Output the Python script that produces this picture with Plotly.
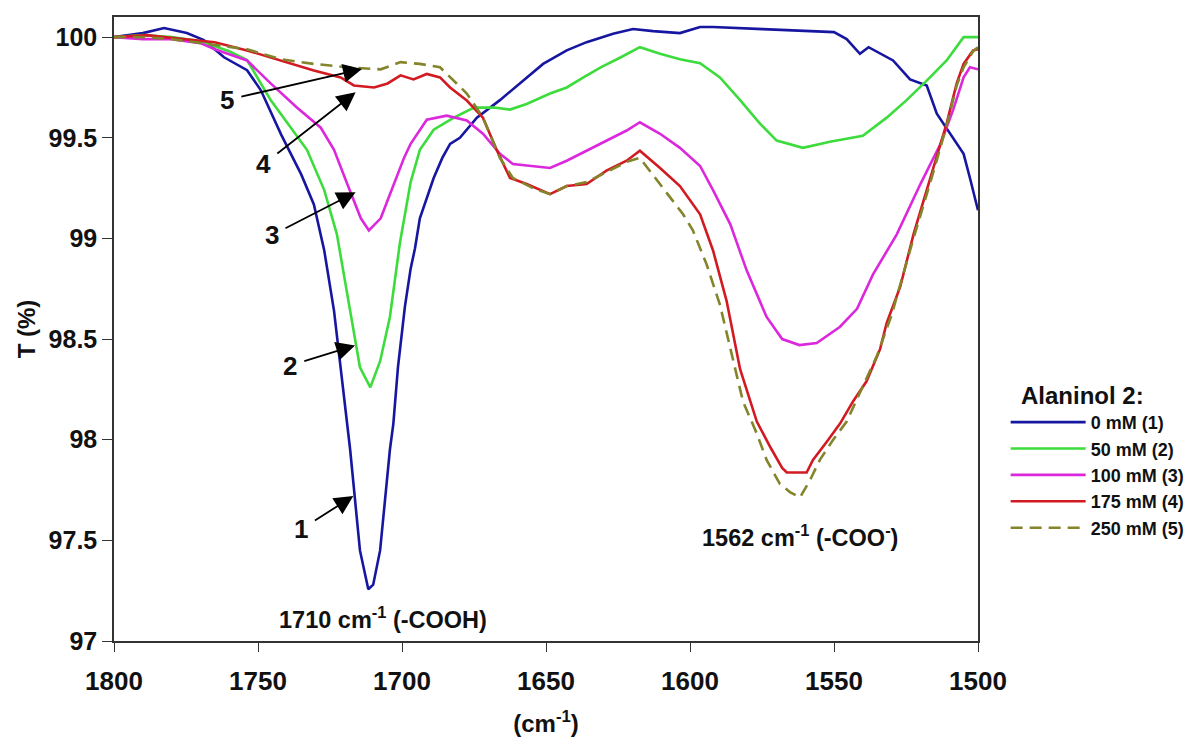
import plotly.graph_objects as go

# ---------------- data ----------------
wn_0 = [1800, 1790, 1782.6, 1774.7, 1768.8, 1761.8, 1753.8, 1749, 1742, 1735, 1730.6, 1727,
        1723.6, 1722.7, 1718, 1714.6, 1711.7, 1710, 1707.6, 1704.2, 1703, 1701.4, 1699,
        1697, 1695.5, 1693.8, 1689, 1686, 1683.3, 1679.9, 1674, 1666, 1656.7, 1651, 1642.8,
        1635.9, 1626.7, 1619.8, 1612.8, 1603.5, 1596.5, 1592, 1574.7, 1559.5, 1550, 1545.6,
        1541, 1538, 1534, 1529.5, 1523.6, 1517.8, 1514.3, 1509.7, 1505, 1502.8, 1500]
t_0 = [100.00, 100.02, 100.045, 100.02, 99.985, 99.90, 99.836, 99.736, 99.517, 99.318, 99.169,
       98.94, 98.64, 98.53, 97.95, 97.45, 97.257, 97.28, 97.45, 97.95, 98.08, 98.36, 98.66,
       98.85, 98.95, 99.10, 99.30, 99.40, 99.47, 99.50, 99.60, 99.687, 99.80, 99.867, 99.934,
       99.975, 100.017, 100.04, 100.03, 100.02, 100.05, 100.05, 100.04, 100.03, 100.025, 99.99,
       99.917, 99.95, 99.917, 99.884, 99.79, 99.76, 99.62, 99.52, 99.42, 99.30, 99.14]

wn_50 = [1800, 1790, 1780, 1770, 1760, 1753.8, 1745.6, 1738.6, 1733, 1727, 1722.6, 1718, 1714.6,
         1711, 1707.6, 1704.2, 1700.7, 1697, 1693.8, 1689, 1682, 1675, 1668, 1662.5, 1656.7,
         1648.6, 1642.8, 1637, 1631, 1624, 1617.4, 1610.4, 1603.5, 1596.5, 1589.6, 1582.6,
         1575.7, 1569.9, 1560.8, 1551.4, 1540, 1531.7, 1524.8, 1517.8, 1510.9, 1505, 1500]
t_50 = [100.00, 100.01, 100.00, 99.98, 99.93, 99.886, 99.687, 99.55, 99.44, 99.24, 99.02, 98.64,
        98.36, 98.26, 98.39, 98.61, 98.98, 99.28, 99.44, 99.54, 99.60, 99.65, 99.65, 99.64,
        99.668, 99.72, 99.75, 99.80, 99.85, 99.90, 99.95, 99.917, 99.89, 99.87, 99.80, 99.687,
        99.57, 99.486, 99.45, 99.48, 99.51, 99.60, 99.687, 99.784, 99.884, 100.00, 100.00]

wn_100 = [1800, 1790, 1780, 1770, 1765, 1753.8, 1745.6, 1736.5, 1728.2, 1723.6, 1719, 1714.3,
          1711.5, 1707.4, 1702.8, 1699.3, 1697, 1691.4, 1684.5, 1677.5, 1671.9, 1666, 1661.5,
          1654.5, 1648.6, 1642.8, 1635.9, 1629, 1622, 1617.4, 1610.4, 1603.5, 1596.5, 1592,
          1586, 1580.3, 1573.4, 1568, 1562, 1556, 1548, 1542, 1536.5, 1528.2, 1520, 1513,
          1508.6, 1505, 1502.8, 1500]
t_100 = [100.00, 99.99, 99.99, 99.97, 99.94, 99.884, 99.77, 99.65, 99.55, 99.44, 99.27, 99.10,
         99.04, 99.10, 99.27, 99.40, 99.47, 99.59, 99.61, 99.586, 99.52, 99.42, 99.37, 99.36,
         99.35, 99.386, 99.436, 99.486, 99.536, 99.577, 99.52, 99.45, 99.36, 99.24, 99.07,
         98.84, 98.61, 98.50, 98.47, 98.48, 98.56, 98.65, 98.82, 99.02, 99.27, 99.47, 99.64,
         99.80, 99.85, 99.84]

wn_175 = [1800, 1788.5, 1782.6, 1775, 1765, 1753.8, 1742, 1730.6, 1721.3, 1716.7, 1709.7, 1705,
          1700.5, 1696, 1691.4, 1686.8, 1683.3, 1677.5, 1671.9, 1667, 1662.5, 1656.7, 1648.6,
          1642.8, 1635.9, 1629, 1622, 1617.4, 1610.4, 1603.5, 1596.5, 1592, 1587.3, 1582.6,
          1576.8, 1572, 1568, 1566.4, 1559.5, 1557.3, 1552.5, 1547.9, 1543.4, 1538.7, 1534,
          1531.7, 1527, 1522.4, 1515.5, 1510.9, 1507.4, 1505, 1501.7, 1500]
t_175 = [100.00, 100.01, 100.00, 99.99, 99.975, 99.934, 99.884, 99.834, 99.80, 99.76, 99.75,
         99.77, 99.81, 99.79, 99.817, 99.80, 99.75, 99.685, 99.60, 99.436, 99.30, 99.27, 99.22,
         99.26, 99.27, 99.337, 99.386, 99.436, 99.35, 99.26, 99.12, 98.94, 98.69, 98.35, 98.09,
         97.96, 97.86, 97.837, 97.837, 97.90, 97.99, 98.08, 98.19, 98.29, 98.45, 98.58, 98.76,
         99.02, 99.35, 99.57, 99.77, 99.867, 99.934, 99.94]

wn_250 = [1800, 1790, 1780, 1770, 1760, 1753.8, 1742, 1730.6, 1719, 1707.4, 1700.5, 1693.8,
          1686.8, 1683.3, 1677.5, 1671.9, 1666, 1661.5, 1654.5, 1648.6, 1642.8, 1635.9, 1629,
          1622, 1617.4, 1610.4, 1602.4, 1599, 1594.2, 1589.6, 1581.6, 1576.8, 1573.4, 1568.8,
          1565.3, 1561.8, 1558.3, 1554.9, 1550.3, 1545.6, 1541, 1535, 1530, 1522.4, 1515.5,
          1510.9, 1507.4, 1505, 1501.7, 1500]
t_250 = [100.00, 100.00, 99.99, 99.97, 99.95, 99.94, 99.89, 99.867, 99.85, 99.84, 99.876,
         99.867, 99.85, 99.80, 99.72, 99.60, 99.40, 99.30, 99.25, 99.22, 99.26, 99.28, 99.33,
         99.38, 99.40, 99.27, 99.12, 99.04, 98.87, 98.67, 98.19, 98.03, 97.90, 97.78, 97.74,
         97.713, 97.80, 97.90, 98.00, 98.09, 98.23, 98.42, 98.62, 99.00, 99.33, 99.56, 99.76,
         99.85, 99.93, 99.95]

series_names = ["0 mM (1)", "50 mM (2)", "100 mM (3)", "175 mM (4)", "250 mM (5)"]
x_ticks = [1800, 1750, 1700, 1650, 1600, 1550, 1500]
y_ticks = [97, 97.5, 98, 98.5, 99, 99.5, 100]

# arrow labels: (label, head wavenumber, head T, dx px, dy px)
arrow_labels = ["1", "2", "3", "4", "5"]
arrow_wn = [1716.9, 1716.3, 1716.1, 1716.1, 1713.9]
arrow_t = [97.72, 98.468, 99.229, 99.726, 99.842]
arrow_dx = [-52, -65, -84, -92, -135]
arrow_dy = [33, 20, 43, 72, 31]

peak_texts = ["1710 cm<sup>-1</sup> (-COOH)", "1562 cm<sup>-1</sup> (-COO<sup>-</sup>)"]
peak_wn = [1706.6, 1561.8]
peak_t = [97.114, 97.522]

# ---------------- figure ----------------
FONT = "Liberation Sans, Arial, sans-serif"
colors = ["#1616A0", "#3CDC3C", "#DC28DC", "#D21A22", "#84842A"]
dashes = ["solid", "solid", "solid", "solid", "12px,7px"]
xs = [wn_0, wn_50, wn_100, wn_175, wn_250]
ys = [t_0, t_50, t_100, t_175, t_250]

fig = go.Figure()
for name, x, y, c, d in zip(series_names, xs, ys, colors, dashes):
    fig.add_trace(go.Scatter(x=x, y=y, mode="lines", name="<b>%s</b>" % name,
                             line=dict(color=c, width=2.6, dash=d)))

for lab, hx, hy, dx, dy in zip(arrow_labels, arrow_wn, arrow_t, arrow_dx, arrow_dy):
    fig.add_annotation(x=hx, y=hy, xref="x", yref="y", text="<b>%s</b>" % lab,
                       showarrow=True, ax=dx, ay=dy, axref="pixel", ayref="pixel",
                       arrowhead=2, arrowsize=2.1, arrowwidth=1.8, arrowcolor="#000000",
                       standoff=0, startstandoff=6,
                       font=dict(family=FONT, size=26, color="#111111"))

for txt, px, py in zip(peak_texts, peak_wn, peak_t):
    fig.add_annotation(x=px, y=py, xref="x", yref="y", text="<b>%s</b>" % txt,
                       showarrow=False, xanchor="center", yanchor="middle",
                       font=dict(family=FONT, size=23.5, color="#111111"))

fig.update_layout(
    width=1204, height=738,
    margin=dict(l=106, r=234, t=9, b=105, autoexpand=False),
    paper_bgcolor="white", plot_bgcolor="white",
    font=dict(family=FONT, color="#111111"),
    showlegend=True,
    legend=dict(
        x=1.032, y=0.43, xanchor="left", yanchor="top",
        bgcolor="rgba(0,0,0,0)", borderwidth=0,
        itemwidth=75, tracegroupgap=0,
        font=dict(family=FONT, size=18, color="#111111"),
        title=dict(text="<b>&nbsp;&nbsp;Alaninol 2:</b>", side="top",
                   font=dict(family=FONT, size=24, color="#111111")),
    ),
    xaxis=dict(
        range=[1800, 1500], tickvals=x_ticks, ticktext=["<b>%d</b>" % v for v in x_ticks],
        showgrid=False, zeroline=False, showline=True, mirror=True, automargin=False,
        linecolor="#333333", linewidth=1.5,
        ticks="outside", ticklen=9, tickwidth=1, tickcolor="#333333",
        ticklabelstandoff=7,
        tickfont=dict(family=FONT, size=26, color="#111111"),
        title=dict(text="<b>(cm<sup>-1</sup>)</b>", standoff=20,
                   font=dict(family=FONT, size=24, color="#111111")),
    ),
    yaxis=dict(
        range=[97, 100.1], tickvals=y_ticks,
        ticktext=["<b>%g</b>" % v for v in y_ticks],
        showgrid=False, zeroline=False, showline=True, mirror=True, automargin=False,
        linecolor="#333333", linewidth=1.5,
        ticks="outside", ticklen=10, tickwidth=1, tickcolor="#333333",
        tickfont=dict(family=FONT, size=25, color="#111111"),
        title=dict(text="<b>T (%)</b>", standoff=6,
                   font=dict(family=FONT, size=24, color="#111111")),
    ),
)

fig.write_html("out.html")
